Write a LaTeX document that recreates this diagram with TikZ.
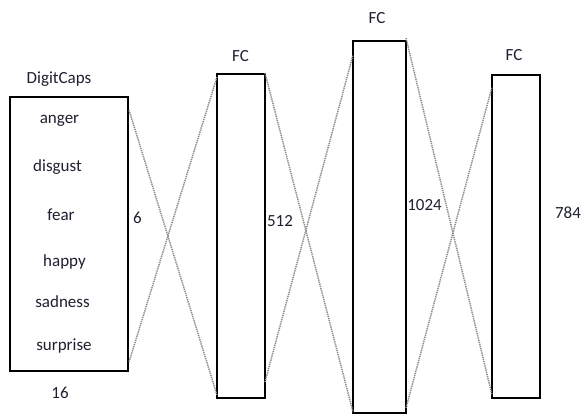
\documentclass[tikz,border=0pt]{standalone}
\usepackage{fontspec}
\setmainfont{Carlito}
\usetikzlibrary{calc}
\definecolor{txt}{HTML}{1E2030}
\definecolor{dotc}{HTML}{8A8A8A}
\begin{document}
\begin{tikzpicture}[x=1pt,y=-1pt,
  layerbox/.style={draw=black, line width=1.8pt, fill=white, inner sep=0pt},
  lbl/.style={text=txt, font=\fontsize{17}{19}\selectfont, inner sep=0pt, anchor=base},
  link/.style={draw=dotc, line width=1.5pt, dash pattern=on 1.3pt off 0.9pt}]
\useasboundingbox (0,0) rectangle (586,416);
% boxes
\node[layerbox, minimum width=118pt, minimum height=274pt] (b1) at (69,234) {};
\node[layerbox, minimum width=48pt, minimum height=324pt] (b2) at (241,236) {};
\node[layerbox, minimum width=53pt, minimum height=372pt] (b3) at (379.5,227) {};
\node[layerbox, minimum width=48pt, minimum height=323pt] (b4) at (516,236.5) {};
% connectors
\coordinate (p1) at (129,110);
\coordinate (p2) at (129,362);
\coordinate (q1) at (217,395);
\coordinate (q2) at (217,77);
\draw[link] (p1) -- (q1);
\draw[link] (p2) -- (q2);
\coordinate (r1) at (265,73);
\coordinate (r2) at (265,382);
\coordinate (s1) at (353,412);
\coordinate (s2) at (353,55);
\draw[link] (r1) -- (s1);
\draw[link] (r2) -- (s2);
\coordinate (t1) at (406,38);
\coordinate (t2) at (406,408);
\coordinate (u1) at (492,395);
\coordinate (u2) at (492,87);
\draw[link] (t1) -- (u1);
\draw[link] (t2) -- (u2);
% labels
\node[lbl] (dc) at (59,83) {DigitCaps};
\node[lbl] (e1) at (59.5,123) {anger};
\node[lbl] (e2) at (57.5,171) {disgust};
\node[lbl] (e3) at (61,220) {fear};
\node[lbl] (e4) at (64.5,266) {happy};
\node[lbl] (e5) at (62.5,307) {sadness};
\node[lbl] (e6) at (64,350) {surprise};
\node[lbl] (n16) at (60,398) {16};
\node[lbl] (n6) at (137.5,223) {6};
\node[lbl] (n512) at (280,226) {512};
\node[lbl] (n1024) at (424.5,210) {1024};
\node[lbl] (n784) at (568,218) {784};
\node[lbl] (fc1) at (240.5,61) {FC};
\node[lbl] (fc2) at (377,23) {FC};
\node[lbl] (fc3) at (514,60) {FC};
\end{tikzpicture}
\end{document}
